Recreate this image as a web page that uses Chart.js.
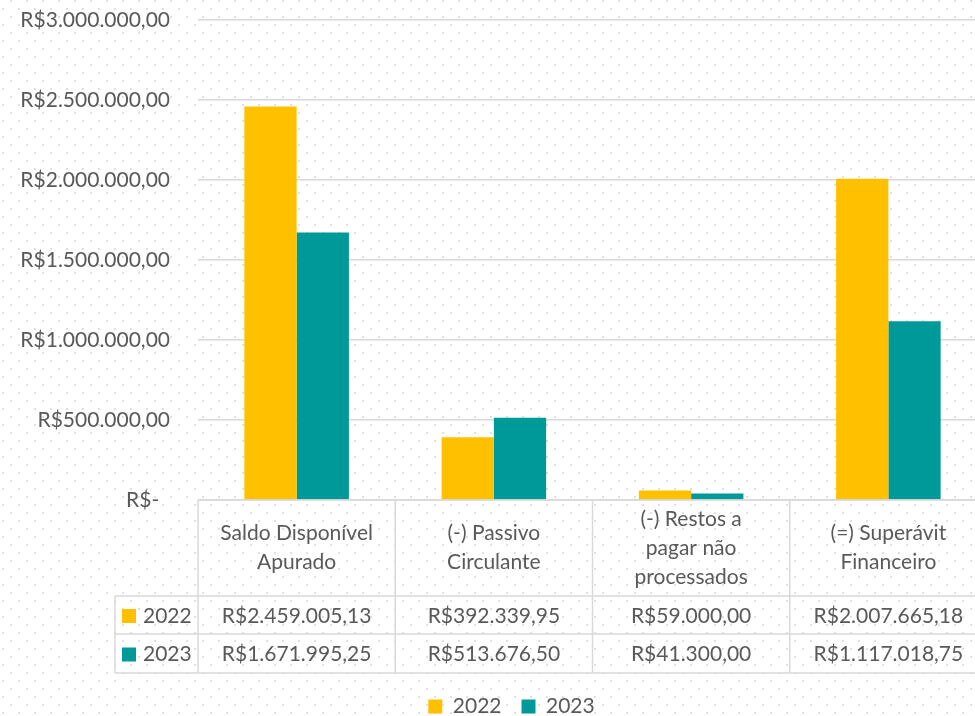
<!DOCTYPE html>
<html>
<head>
<meta charset="utf-8">
<script src="https://cdn.jsdelivr.net/npm/chart.js@4.4.0/dist/chart.umd.min.js"></script>
<style>
  html, body { margin: 0; padding: 0; overflow: hidden; }
  body {
    width: 975px; height: 716px; background-color: #fff;
    background-image: radial-gradient(circle, #e0e0e0 0.8px, transparent 1.1px),
                      radial-gradient(circle, #e0e0e0 0.8px, transparent 1.1px);
    background-size: 16px 16px;
    background-position: 11px 1px, 3px 9px;
  }
  #wrap { position: relative; width: 987px; height: 727px; }
</style>
</head>
<body>
<div id="wrap"><canvas id="chart"></canvas></div>
<script>
const categories = [
  ['Saldo Disponível', 'Apurado'],
  ['(-) Passivo', 'Circulante'],
  ['(-) Restos a', 'pagar não', 'processados'],
  ['(=) Superávit', 'Financeiro'],
];
const seriesNames = ['2022', '2023'];
const values2022 = [2459005.13, 392339.95, 59000.00, 2007665.18];
const values2023 = [1671995.25, 513676.50, 41300.00, 1117018.75];
const yTicks = [0, 500000, 1000000, 1500000, 2000000, 2500000, 3000000];
const yTickLabels = ['R$-  ', 'R$500.000,00', 'R$1.000.000,00', 'R$1.500.000,00', 'R$2.000.000,00', 'R$2.500.000,00', 'R$3.000.000,00'];
const colors = ['#FFC000', '#009999'];

const textColor = '#595959';
const lineColor = '#d9d9d9';

// R$ format like the Excel data table: R$1.234.567,89
const formatBRL = (v) => {
  const [int, dec] = v.toFixed(2).split('.');
  return 'R$' + int.replace(/\B(?=(\d{3})+(?!\d))/g, '.') + ',' + dec;
};

Chart.defaults.font.family = 'Lato, "Open Sans", sans-serif';
Chart.defaults.font.size = 21;
Chart.defaults.color = textColor;

// data table under the x axis, columns follow the category scale
const dataTable = {
  id: 'dataTable',
  afterLayout(chart) {
    // legend in the original sits a bit right of the canvas centre
    chart.legend.left += 18;
    chart.legend.right += 18;
  },
  afterDraw(chart) {
    const { ctx, chartArea, scales: { x } } = chart;
    const top = chartArea.bottom;
    const headBottom = top + 96;
    const rowBottoms = [headBottom + 38, headBottom + 77];
    const keyLeft = 115;
    const step = x.getPixelForValue(1) - x.getPixelForValue(0);
    const left = x.getPixelForValue(0) - step / 2;
    const right = x.getPixelForValue(categories.length - 1) + step / 2;

    ctx.save();
    ctx.strokeStyle = lineColor;
    ctx.lineWidth = 1.5;
    ctx.beginPath();
    ctx.moveTo(left, top); ctx.lineTo(right, top);
    ctx.moveTo(keyLeft, headBottom); ctx.lineTo(right, headBottom);
    rowBottoms.forEach((y) => { ctx.moveTo(keyLeft, y); ctx.lineTo(right, y); });
    ctx.moveTo(keyLeft, headBottom); ctx.lineTo(keyLeft, rowBottoms[1]);
    for (let i = 0; i <= categories.length; i++) {
      const cx = left + i * step;
      ctx.moveTo(cx, top); ctx.lineTo(cx, rowBottoms[1]);
    }
    ctx.stroke();

    ctx.fillStyle = textColor;
    ctx.font = Chart.helpers.toFont(Chart.defaults.font).string;
    ctx.textAlign = 'center';
    ctx.textBaseline = 'middle';
    const headMid = (top + headBottom) / 2;
    categories.forEach((lines, i) => {
      const cx = x.getPixelForValue(i);
      lines.forEach((t, j) => {
        ctx.fillText(t, cx, headMid + (j - (lines.length - 1) / 2) * 29);
      });
    });

    const rows = [values2022, values2023];
    rows.forEach((vals, r) => {
      const rowTop = r === 0 ? headBottom : rowBottoms[0];
      const mid = (rowTop + rowBottoms[r]) / 2 + 1;
      ctx.fillStyle = colors[r];
      ctx.fillRect(keyLeft + 7, mid - 7, 14, 14);
      ctx.fillStyle = textColor;
      ctx.textAlign = 'left';
      ctx.fillText(seriesNames[r], keyLeft + 28, mid);
      ctx.textAlign = 'center';
      vals.forEach((v, i) => ctx.fillText(formatBRL(v), x.getPixelForValue(i), mid));
    });
    ctx.restore();
  },
};

new Chart(document.getElementById('chart'), {
  type: 'bar',
  data: {
    labels: categories,
    datasets: [
      { label: seriesNames[0], data: values2022, backgroundColor: colors[0] },
      { label: seriesNames[1], data: values2023, backgroundColor: colors[1] },
    ],
  },
  options: {
    responsive: true,
    maintainAspectRatio: false,
    animation: false,
    layout: { padding: { top: 20, right: 0, left: 0, bottom: 0 } },
    datasets: { bar: { categoryPercentage: 0.53, barPercentage: 1 } },
    plugins: {
      legend: {
        position: 'bottom',
        labels: { boxWidth: 14, boxHeight: 14, padding: 20, color: textColor },
      },
      tooltip: { enabled: false },
    },
    scales: {
      x: {
        grid: { display: false },
        border: { display: false },
        ticks: { display: false },
        afterFit: (s) => { s.height = 176; },
      },
      y: {
        min: 0,
        max: 3000000,
        afterBuildTicks: (s) => { s.ticks = yTicks.map((v) => ({ value: v })); },
        ticks: { padding: 28, callback: (v, i) => yTickLabels[i] },
        grid: { color: lineColor, lineWidth: 1.5, drawTicks: false },
        border: { display: false },
        afterFit: (s) => {
          s.width = 198;
          s.paddingTop = 0;
          s.paddingBottom = 0;
        },
      },
    },
  },
  plugins: [dataTable],
});
</script>
</body>
</html>
